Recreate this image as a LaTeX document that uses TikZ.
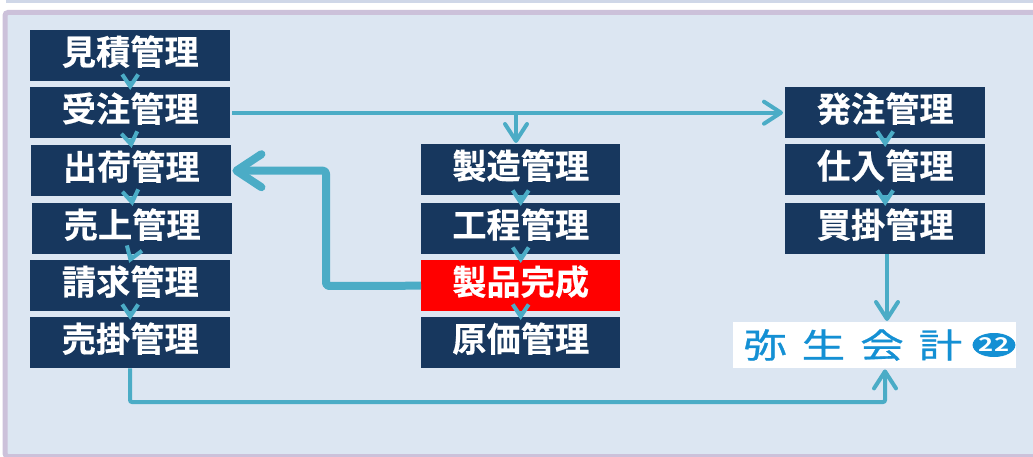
\documentclass[tikz,border=0pt]{standalone}
\usepackage{fontspec}
\setmainfont{Noto Sans CJK JP}[BoldFont={Noto Sans CJK JP Bold},BoldFeatures={FakeBold=0.4}]
\newfontfamily\logofont[FakeStretch=1.28,FakeBold=0.8]{Noto Sans CJK JP}
\newfontfamily\badgefont[FakeStretch=1.35]{Noto Sans CJK JP Bold}
\usetikzlibrary{arrows.meta,shapes.geometric}
\definecolor{navy}{HTML}{17375E}
\definecolor{teal}{HTML}{4BACC6}
\definecolor{panel}{HTML}{DCE6F2}
\definecolor{rim}{HTML}{CCC1DA}
\definecolor{strip}{HTML}{CFD7E8}
\definecolor{logoblue}{HTML}{1490D4}
\tikzset{
  x=1pt,y=-1pt,
  proc/.style={fill=navy,text=white,minimum width=200pt,minimum height=51pt,inner sep=0pt,anchor=north west,text height=30pt,text depth=12pt,font=\fontsize{34.2}{34.2}\selectfont\bfseries},
  mid/.style={proc,minimum width=199pt},
  hot/.style={mid,fill=red},
  chev/.style={draw=teal,line width=4pt,-{Straight Barb[length=12pt,width=16pt]},shorten >=-3pt},
  link/.style={draw=teal,line width=4pt,-{Straight Barb[length=17pt,width=22pt,round]}},
  fat/.style={draw=teal,line width=8pt,line join=round,-{Straight Barb[length=25pt,width=33pt,round]}},
}
\begin{document}
\begin{tikzpicture}
\useasboundingbox (0,0) rectangle (1033,457);
\fill[strip] (6,0) rectangle (1033,3);
\draw[rim,line width=5pt,fill=panel,rounded corners=3pt] (5,12.5) -- (1040,12.5) -- (1040,456.5) -- (5,456.5) -- cycle;
% left column
\node[proc] (a1) at (30,30) {見積管理};
\node[proc] (a2) at (30,87) {受注管理};
\node[proc] (a3) at (31,145) {出荷管理};
\node[proc] (a4) at (32,203) {売上管理};
\node[proc] (a5) at (30,260) {請求管理};
\node[proc] (a6) at (30,317) {売掛管理};
% middle column
\node[mid] (b1) at (421,144) {製造管理};
\node[mid] (b2) at (421,203) {工程管理};
\node[hot] (b3) at (421,260) {製品完成};
\node[mid] (b4) at (421,317) {原価管理};
% right column
\node[proc] (c1) at (785,87) {発注管理};
\node[proc] (c2) at (785,144) {仕入管理};
\node[proc] (c3) at (785,203) {買掛管理};
% logo
\node[fill=white,minimum width=283pt,minimum height=46pt,inner sep=0pt,anchor=north west] (logo) at (733,322) {};
\node[anchor=west,inner sep=0pt,text=logoblue,font=\logofont\fontsize{34}{34}\selectfont] (logotext) at (743,345) {弥\hspace{15pt}生\hspace{15pt}会\hspace{15pt}計};
\node[ellipse,fill=logoblue,text=white,minimum width=40pt,minimum height=24pt,inner sep=0pt,font=\badgefont\fontsize{19}{19}\selectfont] (badge) at (994,345) {22};
% chevrons
\foreach \s/\t in {a1/a2,a2/a3,a3/a4,a4/a5,a5/a6,b1/b2,b2/b3,b3/b4,c1/c2,c2/c3}
  \draw[chev] (\s.south) -- (\t.north);
% links
\coordinate (branch) at (516,112);
\coordinate (bendA) at (326,286);
\coordinate (bendB) at (130,402);
\coordinate (bendC) at (885,402);
\draw[link,shorten <=2pt,shorten >=2pt] (a2.east) -- (c1.west);
\draw[link,shorten >=1pt] (branch) -- (branch |- b1.north);
\draw[fat,rounded corners=3pt,shorten >=1pt] (b3.west) -- (bendA) -- (bendA |- a3.east) -- (a3.east);
\draw[link,shorten >=1pt] (c3.south -| 887,0) -- (logo.north -| 887,0);
\draw[link,rounded corners=2pt,shorten >=1pt] (bendB |- a6.south) -- (bendB) -- (bendC) -- (bendC |- logo.south);
\end{tikzpicture}
\end{document}
